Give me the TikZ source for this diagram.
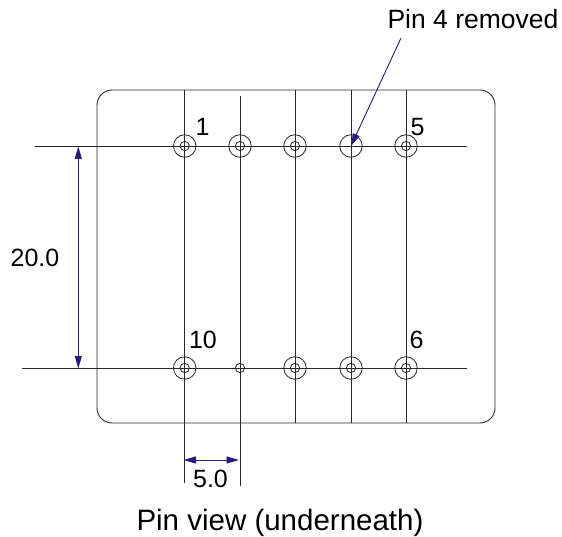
\documentclass[tikz,border=0pt]{standalone}
\usepackage{fontspec}
\setmainfont{Liberation Sans}
\usetikzlibrary{arrows.meta}
\definecolor{dimblue}{RGB}{45,25,125}
\definecolor{inkline}{RGB}{40,40,40}
\tikzset{
  x=1pt,y=-1pt,
  body/.style={draw=inkline,line width=0.9pt,rounded corners=15pt},
  guide/.style={draw=inkline,line width=0.9pt},
  dimline/.style={draw=dimblue,line width=0.9pt,{Triangle[length=12.5pt,width=7pt]}-{Triangle[length=12.5pt,width=7pt]}},
  leader/.style={draw=dimblue,line width=0.9pt,-{Triangle[length=12.5pt,width=7pt]}},
  ring/.style={circle,draw=inkline,line width=0.8pt,minimum size=22.5pt,inner sep=0pt},
  hole/.style={circle,draw=inkline,line width=0.8pt,minimum size=9.3pt,inner sep=0pt},
  lbl/.style={inner sep=0pt,anchor=base,font=\fontsize{25}{27}\selectfont,text=black},
}
\begin{document}
\begin{tikzpicture}
\useasboundingbox (0,0) rectangle (562,537);
\draw[body] (97,90) rectangle (495,423);
% guide end points
\coordinate (h1a) at (35,146); \coordinate (h1b) at (467,146);
\coordinate (h2a) at (22,368); \coordinate (h2b) at (467,368);
\coordinate (v1a) at (184.7,90); \coordinate (v1b) at (184.7,483);
\coordinate (v2a) at (240,96);   \coordinate (v2b) at (240,486);
\coordinate (v3a) at (295,90);   \coordinate (v3b) at (295,423);
\coordinate (v4a) at (351,90);   \coordinate (v4b) at (351,423);
\coordinate (v5a) at (406,90);   \coordinate (v5b) at (406,423);
\draw[guide] (h1a) -- (h1b);
\draw[guide] (h2a) -- (h2b);
\draw[guide] (v1a) -- (v1b);
\draw[guide] (v2a) -- (v2b);
\draw[guide] (v3a) -- (v3b);
\draw[guide] (v4a) -- (v4b);
\draw[guide] (v5a) -- (v5b);
% pins
\node[ring] (p1) at (184.7,146) {};
\node[hole] at (p1) {};
\node[ring] (p2) at (240,146) {};
\node[hole] at (p2) {};
\node[ring] (p3) at (295,146) {};
\node[hole] at (p3) {};
\node[ring] (p4) at (351,146) {};
\node[ring] (p5) at (406,146) {};
\node[hole] at (p5) {};
\node[ring] (p10) at (184.7,368) {};
\node[hole] at (p10) {};
\node[hole] (p9) at (240,368) {};
\node[ring] (p8) at (295,368) {};
\node[hole] at (p8) {};
\node[ring] (p7) at (351,368) {};
\node[hole] at (p7) {};
\node[ring] (p6) at (406,368) {};
\node[hole] at (p6) {};
% labels
\node[lbl] (l1) at (202.5,136) {1};
\node[lbl] (l5) at (417.5,136) {5};
\node[lbl] (l10) at (203,348) {10};
\node[lbl] (l6) at (416.5,348) {6};
\node[lbl] (d20) at (35,267) {20.0};
\node[lbl] (d5) at (210.5,487) {5.0};
\node[lbl,font=\fontsize{26.5}{28}\selectfont] (removed) at (473,29) {Pin 4 removed};
\node[lbl,font=\fontsize{29.5}{31}\selectfont] (title) at (280,530) {Pin view (underneath)};
% dimensions
\coordinate (a1) at (78.3,146.5); \coordinate (a2) at (78.3,368.5);
\coordinate (b1) at (183.5,460); \coordinate (b2) at (239,460);
\coordinate (c1) at (401,38); \coordinate (c2) at (351,146);
\draw[dimline] (a1) -- (a2);
\draw[dimline] (b1) -- (b2);
\draw[leader] (c1) -- (c2);
\end{tikzpicture}
\end{document}
